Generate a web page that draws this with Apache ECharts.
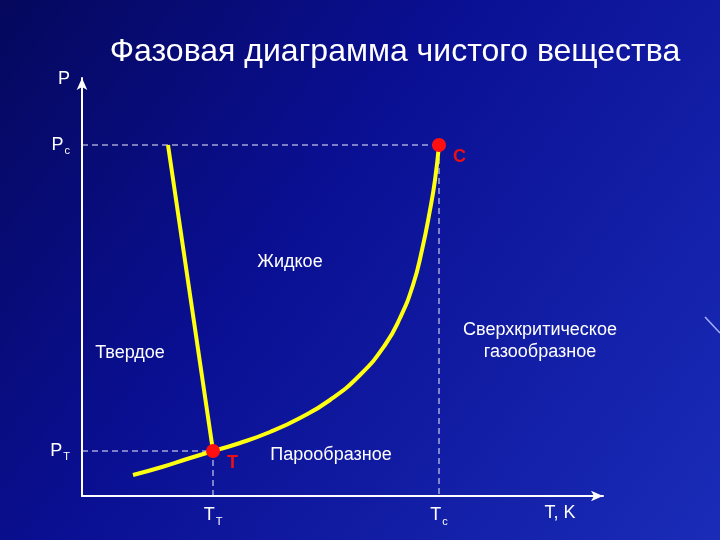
<!DOCTYPE html>
<html>
<head>
<meta charset="utf-8">
<script src="https://cdn.jsdelivr.net/npm/echarts@6/dist/echarts.min.js"></script>
<style>
  html, body { margin: 0; padding: 0; }
  #phaseDiagram { width: 720px; height: 540px; }
</style>
</head>
<body>
<div id="phaseDiagram"></div>
<script>
// coordinates in arbitrary units (T to the right, P up)
const triplePoint = [131, 45];
const criticalPoint = [357, 351];

const sublimationCurve = [[51, 21], [80, 29], [105, 37], [131, 45]];
const meltingLine = [[131, 45], [86, 351]];
const vaporCurve = [
  [131, 45], [158, 53], [188, 64], [218, 78], [248, 96], [278, 121],
  [303, 151], [318, 178], [331, 211], [340, 246], [348, 286], [353, 316], [357, 351]
];

const xTickValues = [131, 357, 478];
const xTickLabels = ["{m|T}{s|T}", "{m|T}{s|c}", "{m|T, K}"];
const yTickValues = [45, 351, 417];
const yTickLabels = ["{m|P}{s|T}", "{m|P}{s|c}", "{m|P}"];

const regionLabels = [
  [208, 234, "Жидкое"],
  [48, 143, "Твердое"],
  [458, 155, "Сверхкритическое\nгазообразное"],
  [249, 41, "Парообразное"]
];
const pointLabels = [
  [triplePoint[0], triplePoint[1], "T"],
  [criticalPoint[0], criticalPoint[1], "C"]
];

const chart = echarts.init(document.getElementById("phaseDiagram"));
const textFont = "Liberation Sans, Arial, sans-serif";
const richAxis = {
  m: { color: "#ffffff", fontSize: 18, fontFamily: textFont },
  s: { color: "#ffffff", fontSize: 11, fontFamily: textFont, verticalAlign: "bottom", padding: [12, 0, 0, 1] }
};

const option = {
  backgroundColor: {
    type: "linear", x: 0, y: 0, x2: 1, y2: 1,
    colorStops: [
      { offset: 0, color: "#05085c" },
      { offset: 0.4, color: "#0a0f92" },
      { offset: 1, color: "#1a2cb8" }
    ]
  },
  title: {
    text: "Фазовая диаграмма чистого вещества",
    left: 390,
    top: 31,
    textAlign: "center",
    textStyle: { color: "#ffffff", fontSize: 32, fontWeight: "normal", fontFamily: textFont }
  },
  graphic: [{
    type: "line",
    shape: { x1: 705, y1: 317, x2: 720, y2: 333 },
    style: { stroke: "#a8b4ff", lineWidth: 1.5 },
    silent: true
  }],
  grid: { left: 82, right: 117, top: 78, bottom: 44 },
  xAxis: {
    type: "value",
    min: 0,
    max: 521,
    splitLine: { show: false },
    axisTick: { show: false },
    axisLine: {
      lineStyle: { color: "#ffffff", width: 2 },
      symbol: ["none", "arrow"],
      symbolSize: [8, 12]
    },
    axisLabel: {
      customValues: xTickValues,
      margin: 8,
      formatter: function (v) {
        return xTickLabels[xTickValues.indexOf(v)];
      },
      rich: richAxis
    }
  },
  yAxis: {
    type: "value",
    min: 0,
    max: 418,
    splitLine: { show: false },
    axisTick: { show: false },
    axisLine: {
      lineStyle: { color: "#ffffff", width: 2 },
      symbol: ["none", "arrow"],
      symbolSize: [8, 12]
    },
    axisLabel: {
      customValues: yTickValues,
      margin: 12,
      formatter: function (v) {
        return yTickLabels[yTickValues.indexOf(v)];
      },
      rich: richAxis
    }
  },
  series: [
    {
      type: "line",
      data: [[0, criticalPoint[1]], criticalPoint, [criticalPoint[0], 0]],
      symbol: "none",
      silent: true,
      lineStyle: { color: "#f0f0ff", width: 1, type: [6, 4] },
      z: 1
    },
    {
      type: "line",
      data: [[0, triplePoint[1]], triplePoint, [triplePoint[0], 0]],
      symbol: "none",
      silent: true,
      lineStyle: { color: "#f0f0ff", width: 1, type: [6, 4] },
      z: 1
    },
    {
      type: "line",
      data: sublimationCurve,
      smooth: true,
      symbol: "none",
      lineStyle: { color: "#ffff10", width: 4 },
      z: 2
    },
    {
      type: "line",
      data: meltingLine,
      symbol: "none",
      lineStyle: { color: "#ffff10", width: 4 },
      z: 2
    },
    {
      type: "line",
      data: vaporCurve,
      smooth: true,
      symbol: "none",
      lineStyle: { color: "#ffff10", width: 4 },
      z: 2
    },
    {
      type: "scatter",
      data: pointLabels,
      symbolSize: 14,
      itemStyle: { color: "#ff1010", opacity: 1 },
      label: {
        show: true,
        position: "right",
        offset: [2, 12],
        formatter: function (p) { return p.data[2]; },
        color: "#ee1010",
        fontSize: 18,
        fontWeight: "bold",
        fontFamily: textFont
      },
      z: 3
    },
    {
      type: "scatter",
      data: regionLabels,
      symbolSize: 0,
      itemStyle: { opacity: 1 },
      label: {
        show: true,
        position: "inside",
        formatter: function (p) { return p.data[2]; },
        color: "#ffffff",
        fontSize: 18,
        lineHeight: 22,
        align: "center",
        fontFamily: textFont
      },
      z: 3
    }
  ]
};

chart.setOption(option);
</script>
</body>
</html>
